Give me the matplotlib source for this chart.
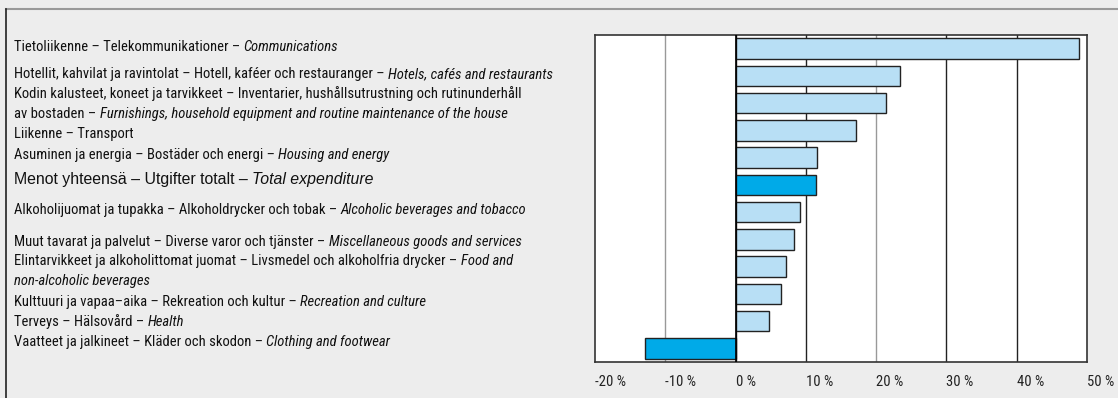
import matplotlib
matplotlib.use("Agg")
import matplotlib.pyplot as plt
from matplotlib.lines import Line2D

narrow = ["Roboto Condensed", "DejaVu Sans"]

# one entry per bar, top to bottom; each label = list of lines, each line = (normal, italic)
labels = [
    [("Tietoliikenne – Telekommunikationer – ", "Communications")],
    [("Hotellit, kahvilat ja ravintolat – Hotell, kaféer och restauranger – ", "Hotels, cafés and restaurants")],
    [("Kodin kalusteet, koneet ja tarvikkeet – Inventarier, hushållsutrustning och rutinunderhåll", ""),
     ("av bostaden – ", "Furnishings, household equipment and routine maintenance of the house")],
    [("Liikenne – Transport", "")],
    [("Asuminen ja energia – Bostäder och energi – ", "Housing and energy")],
    [("Menot yhteensä – Utgifter totalt – ", "Total expenditure")],
    [("Alkoholijuomat ja tupakka – Alkoholdrycker och tobak – ", "Alcoholic beverages and tobacco")],
    [("Muut tavarat ja palvelut – Diverse varor och tjänster – ", "Miscellaneous goods and services")],
    [("Elintarvikkeet ja alkoholittomat juomat – Livsmedel och alkoholfria drycker – ", "Food and"),
     ("", "non-alcoholic beverages")],
    [("Kulttuuri ja vapaa–aika – Rekreation och kultur – ", "Recreation and culture")],
    [("Terveys – Hälsovård – ", "Health")],
    [("Vaatteet ja jalkineet – Kläder och skodon – ", "Clothing and footwear")],
]
values = [48.8, 23.4, 21.4, 17.2, 11.6, 11.4, 9.2, 8.3, 7.2, 6.4, 4.8, -12.9]
highlight = [False, False, False, False, False, True, False, False, False, False, False, True]
ticks = [-20, -10, 0, 10, 20, 30, 40, 50]

# layout: pixel row of each text line on the left (top to bottom)
line_px = [47, 74, 94, 114, 134, 155, 180, 210, 242, 261, 281, 302, 322, 342]

light = "#b8dff5"
dark = "#00aae8"

fig = plt.figure(figsize=(11.18, 3.98), dpi=100, facecolor="#ededed")
W, H = 1118, 398
ax = fig.add_axes([595 / W, 1 - 362 / H, (1087 - 595) / W, (362 - 35) / H])
ax.set_facecolor("white")

ypos = list(range(len(values)))
ax.set_xlim(-20, 50)
ax.set_ylim(len(values) - 0.5, -0.5)

for t in ticks[1:-1]:
    c = "#999999" if t in (-10, 20) else "#222222"
    ax.axvline(t, color=c, lw=1, zorder=0)
ax.axvline(0, color="black", lw=1.2, zorder=3)

cols = [dark if h else light for h in highlight]
ax.barh(ypos, values, height=0.76, color=cols, edgecolor="#222222", linewidth=1, zorder=2)

for s in ax.spines.values():
    s.set_color("#333333")
    s.set_linewidth(1.2)

ax.set_yticks([])
ax.set_xticks(ticks)
ax.set_xticklabels([f"{t} %" for t in ticks], family=narrow, fontsize=10.5, ha="left", color="#222222")
ax.tick_params(axis="x", length=0, pad=9)

# left side labels
x0 = 14 / W
k = 0
for i, lines in enumerate(labels):
    big = i == 5
    fam = ["Liberation Sans", "DejaVu Sans"] if big else narrow
    fs = 11.4 if big else 10.5
    for norm, ital in lines:
        y = 1 - line_px[k] / H
        k += 1
        t1 = fig.text(x0, y, norm, va="center", ha="left",
                      family=fam, fontsize=fs, color="#111111")
        if ital:
            if norm:
                ax.annotate(ital, xy=(1, 0.5), xycoords=t1, va="center", ha="left",
                            family=fam, fontsize=fs, style="italic", color="#111111",
                            annotation_clip=False)
            else:
                fig.text(x0, y, ital, va="center", ha="left",
                         family=fam, fontsize=fs, style="italic", color="#111111")

# outer frame (top grey, left dark)
fig.add_artist(Line2D([6 / W, 1], [1 - 9 / H, 1 - 9 / H], transform=fig.transFigure, color="#999999", lw=1.5))
fig.add_artist(Line2D([6 / W, 6 / W], [0, 1 - 9 / H], transform=fig.transFigure, color="#222222", lw=1.2))

fig.savefig("out.png", dpi=100, facecolor=fig.get_facecolor())
